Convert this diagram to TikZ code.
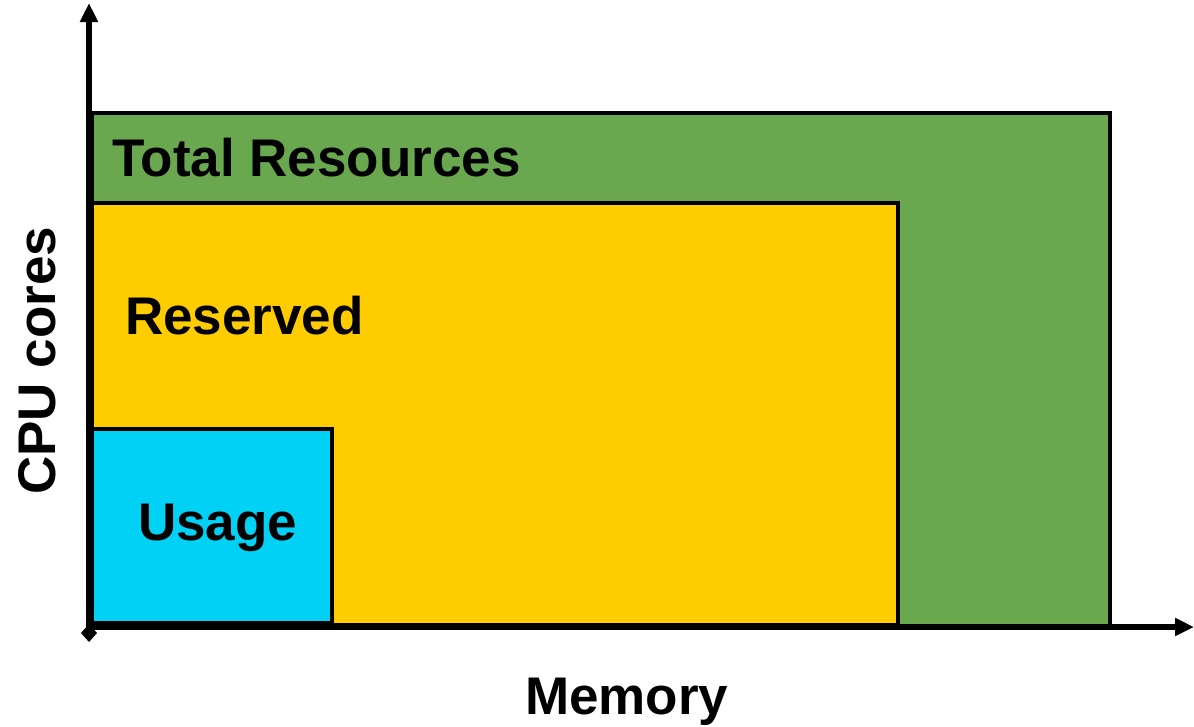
\documentclass[tikz,border=0pt]{standalone}
\usepackage{fontspec}
\setmainfont{Liberation Sans}
\usetikzlibrary{arrows.meta}
\begin{document}
\begin{tikzpicture}[x=1pt,y=-1pt,
  region/.style={draw=black,line width=4pt},
  axis/.style={line width=5.5pt,-{Triangle[length=19pt,width=17pt]}},
  lbl/.style={font=\fontsize{53}{60}\selectfont\bfseries,inner sep=0pt}]
  \useasboundingbox (0,0) rectangle (1194,726);
  % nested resource regions
  \filldraw[region,fill={rgb,255:red,106;green,168;blue,79}] (92,113) rectangle (1110,627);
  \filldraw[region,fill={rgb,255:red,255;green,204;blue,0}] (92,203) rectangle (898,625);
  \filldraw[region,fill={rgb,255:red,0;green,209;blue,245}] (92,429) rectangle (332,623);
  % axes
  \coordinate (o) at (89,627);
  \coordinate (ytip) at (89,3);
  \coordinate (xtip) at (1194,627);
  \draw[axis] (89,633) -- (ytip);
  \draw[axis] (o) -- (xtip);
  \fill (89,624) -- (97,633) -- (89,642) -- (81,633) -- cycle;
  % labels
  \node[lbl,anchor=base west] (total) at (112,176) {Total Resources};
  \node[lbl,anchor=base west] (res) at (125,334) {Reserved};
  \node[lbl,anchor=base west] (use) at (138,540) {Usage};
  \node[lbl,anchor=base west] (mem) at (525,714) {Memory};
  \node[lbl,anchor=base west,rotate=90] (cpu) at (55,495) {CPU cores};
\end{tikzpicture}
\end{document}
